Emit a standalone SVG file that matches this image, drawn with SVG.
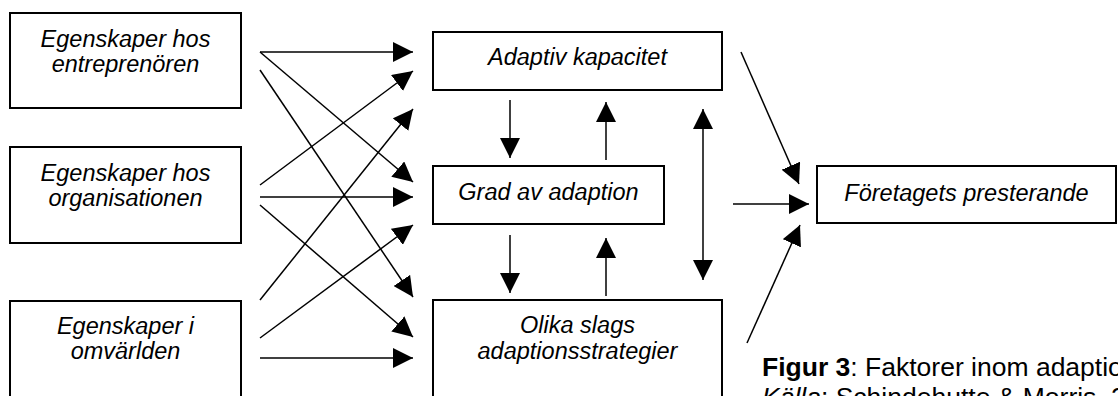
<svg xmlns="http://www.w3.org/2000/svg" width="1118" height="396" viewBox="0 0 1118 396">
  <style>
    .box { fill: #ffffff; stroke: #000000; stroke-width: 2; }
    .lbl { font-family: "Liberation Sans", Arial, sans-serif; font-style: italic; font-size: 23.5px; fill: #000000; text-anchor: middle; }
    .edge { fill: none; stroke: #000000; stroke-width: 1.5; marker-end: url(#head); }
    .cap { font-family: "Liberation Sans", Arial, sans-serif; font-size: 26.5px; fill: #000000; }
  </style>
  <defs>
    <marker id="head" viewBox="0 0 20 20" refX="20" refY="10" markerWidth="20" markerHeight="20" markerUnits="userSpaceOnUse" orient="auto-start-reverse">
      <path d="M0,0 L20,10 L0,20 z" fill="#000000"/>
    </marker>
  </defs>
  <rect width="1118" height="396" fill="#ffffff"/>

  <!-- source factors -->
  <g id="entreprenor">
    <rect class="box" x="10" y="13" width="231" height="95"/>
    <text class="lbl" x="125.5" y="47">Egenskaper hos</text>
    <text class="lbl" x="125.5" y="72">entreprenören</text>
  </g>
  <g id="organisation">
    <rect class="box" x="10" y="147" width="231" height="96"/>
    <text class="lbl" x="125.5" y="181">Egenskaper hos</text>
    <text class="lbl" x="125.5" y="206">organisationen</text>
  </g>
  <g id="omvarld">
    <rect class="box" x="10" y="301" width="231" height="110"/>
    <text class="lbl" x="125.5" y="334">Egenskaper i</text>
    <text class="lbl" x="125.5" y="359">omvärlden</text>
  </g>

  <!-- adaptation block -->
  <g id="kapacitet">
    <rect class="box" x="433" y="32" width="289" height="58"/>
    <text class="lbl" x="577.5" y="65">Adaptiv kapacitet</text>
  </g>
  <g id="grad">
    <rect class="box" x="433" y="166" width="231" height="58"/>
    <text class="lbl" x="548.5" y="200">Grad av adaption</text>
  </g>
  <g id="strategier">
    <rect class="box" x="433" y="300" width="289" height="110"/>
    <text class="lbl" x="577.5" y="333">Olika slags</text>
    <text class="lbl" x="577.5" y="359">adaptionsstrategier</text>
  </g>

  <!-- outcome -->
  <g id="presterande">
    <rect class="box" x="817" y="166" width="299" height="57"/>
    <text class="lbl" x="966.5" y="201">Företagets presterande</text>
  </g>

  <g id="connectors">
    <!-- entreprenör -->
    <line class="edge" x1="260" y1="52" x2="413" y2="52"/>
    <line class="edge" x1="260" y1="52" x2="413" y2="182"/>
    <line class="edge" x1="260" y1="70" x2="413" y2="297"/>
    <!-- organisation -->
    <line class="edge" x1="260" y1="185" x2="413" y2="71"/>
    <line class="edge" x1="260" y1="197" x2="413" y2="197"/>
    <line class="edge" x1="260" y1="205" x2="413" y2="337"/>
    <!-- omvärld -->
    <line class="edge" x1="260" y1="300" x2="413" y2="109"/>
    <line class="edge" x1="260" y1="338" x2="413" y2="225"/>
    <line class="edge" x1="260" y1="358" x2="413" y2="358"/>
    <!-- between middle boxes -->
    <line class="edge" x1="510" y1="100" x2="510" y2="158"/>
    <line class="edge" x1="606" y1="160" x2="606" y2="102"/>
    <line class="edge" x1="510" y1="235" x2="510" y2="293"/>
    <line class="edge" x1="606" y1="296" x2="606" y2="238"/>
    <line class="edge" x1="703" y1="109" x2="703" y2="280" style="marker-start: url(#head)"/>
    <!-- to performance -->
    <line class="edge" x1="741" y1="52" x2="799" y2="184"/>
    <line class="edge" x1="733" y1="204" x2="809" y2="204"/>
    <line class="edge" x1="747" y1="343" x2="800" y2="225"/>
  </g>

  <!-- caption, running past the right and bottom edges -->
  <text class="cap" x="762" y="376"><tspan font-weight="bold">Figur 3</tspan>: Faktorer inom adaptio</text>
  <text class="cap" x="762" y="406"><tspan font-style="italic">Källa</tspan>: Schindehutte &amp; Morris, 200</text>
</svg>
